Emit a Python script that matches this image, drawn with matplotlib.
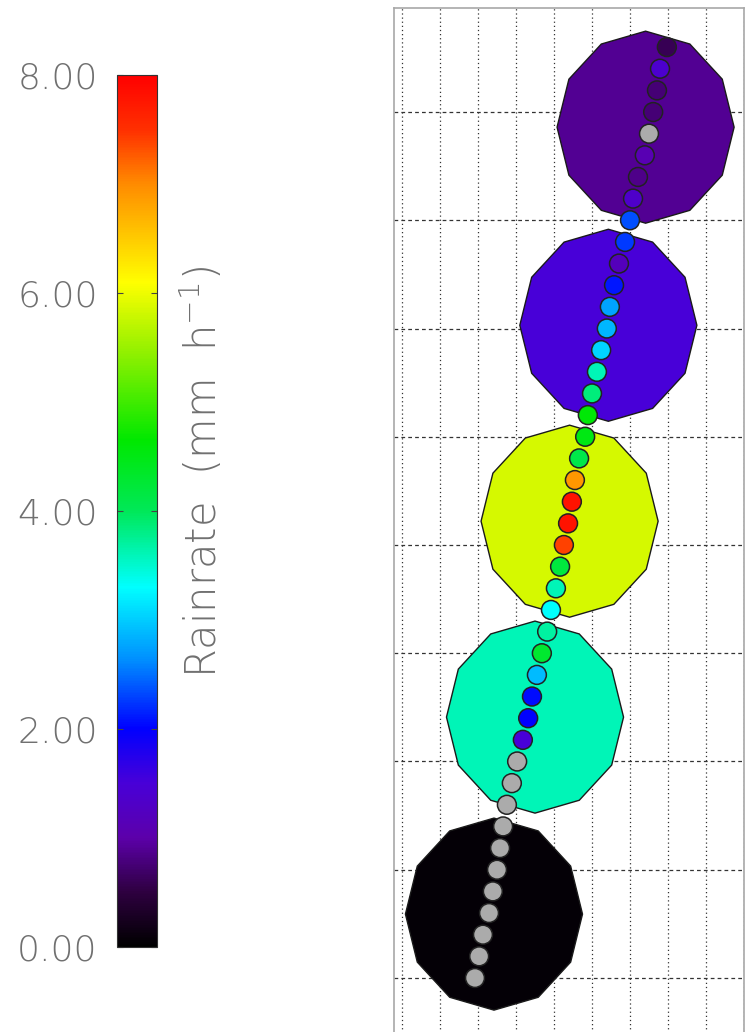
import numpy as np
import matplotlib
matplotlib.use('Agg')
import matplotlib.pyplot as plt
from matplotlib.colors import LinearSegmentedColormap, Normalize
from matplotlib.patches import Polygon
from matplotlib.cm import ScalarMappable
from matplotlib.ticker import FormatStrFormatter

# colour table (rain rate in mm/h -> colour), black -> purple -> blue -> cyan -> green -> yellow -> red
cmap_levels = [0.0, 0.5, 1.0, 1.5, 2.0, 2.64, 3.3, 4.0, 4.65, 5.45, 6.1, 7.0, 7.5, 8.0]
cmap_colors = ['#000000', '#2e0040', '#5c00aa', '#4800d8', '#0000ff', '#0090ff', '#00ffff',
               '#00e858', '#00e800', '#90f000', '#ffff00', '#ff8c00', '#ff3000', '#ff0000']

# storm cells (grid units), mean rain rate
cell_x = [7.41, 6.43, 5.41, 4.50, 3.42]
cell_y = [7.86, 6.03, 4.22, 2.41, 0.59]
cell_rain = [0.9, 1.5, 5.85, 3.6, 0.05]
cell_rx = 2.33
cell_ry = 0.887

# satellite footprints along the track, nan = no retrieval (grey)
nan = np.nan
track_x = [7.97, 7.79, 7.71, 7.61, 7.50, 7.39, 7.21, 7.08, 7.00, 6.87, 6.71,
           6.58, 6.47, 6.39, 6.24, 6.13, 6.00, 5.89, 5.82, 5.66, 5.55, 5.47,
           5.37, 5.26, 5.16, 5.05, 4.92, 4.82, 4.68, 4.55, 4.42, 4.32, 4.18,
           4.03, 3.89, 3.76, 3.66, 3.58, 3.50, 3.39, 3.29, 3.13, 3.03, 2.92]
track_y = [8.6, 8.4, 8.2, 8.0, 7.8, 7.6, 7.4, 7.2, 7.0, 6.8, 6.6,
           6.4, 6.2, 6.0, 5.8, 5.6, 5.4, 5.2, 5.0, 4.8, 4.6, 4.4,
           4.2, 4.0, 3.8, 3.6, 3.4, 3.2, 3.0, 2.8, 2.6, 2.4, 2.2,
           2.0, 1.8, 1.6, 1.4, 1.2, 1.0, 0.8, 0.6, 0.4, 0.2, 0.0]
track_rain = [0.6, 1.4, 0.75, 0.75, nan, 1.1, 0.85, 1.35, 2.35, 2.25, 1.2,
              2.1, 2.75, 2.87, 3.06, 3.6, 3.85, 4.6, 4.5, 4.1, 6.9, 7.8,
              7.8, 7.4, 4.2, 3.6, 3.3, 3.7, 4.3, 2.9, 2.05, 2.0, 1.5,
              nan, nan, nan, nan, nan, nan, nan, nan, nan, nan, nan]

cbar_ticks = [0, 2, 4, 6, 8]

vmax = cmap_levels[-1]
cmap = LinearSegmentedColormap.from_list(
    'rain', [(v / vmax, c) for v, c in zip(cmap_levels, cmap_colors)], N=512)
cmap.set_bad('#ababab')
norm = Normalize(vmin=0, vmax=vmax)

txtcol = '#707070'
plt.rcParams['font.weight'] = 'light'

fig = plt.figure(figsize=(7.52, 10.32), dpi=100)

# ---- map panel
ax = fig.add_axes([394 / 752, -8 / 1032, 350 / 752, 1.0])
ax.set_xlim(0.789, 10.0)
ax.set_ylim(-0.573, 8.961)
ax.set_xticks(range(1, 11))
ax.set_yticks(range(0, 9))
ax.tick_params(length=0, labelbottom=False, labelleft=False)
ax.set_axisbelow(True)
ax.xaxis.grid(True, color='#333333', lw=0.9, linestyle=(0, (1, 2.3)))
ax.yaxis.grid(True, color='#333333', lw=0.9, linestyle=(0, (3, 2.5)))
for s in ax.spines.values():
    s.set_color('#a8a8a8')
    s.set_linewidth(1.2)

t = np.linspace(0, 2 * np.pi, 13)[:-1]
for cx, cy, r in zip(cell_x, cell_y, cell_rain):
    verts = np.column_stack([cx + cell_rx * np.cos(t), cy + cell_ry * np.sin(t)])
    ax.add_patch(Polygon(verts, closed=True, facecolor=cmap(norm(r)),
                         edgecolor='#1a1a1a', lw=1.0, zorder=2))

ax.scatter(track_x, track_y, c=track_rain, cmap=cmap, norm=norm, s=185,
           edgecolors='#222222', linewidths=1.1, plotnonfinite=True, zorder=3)

# ---- colour bar
cax = fig.add_axes([117 / 752, 1 - 947 / 1032, 40 / 752, 872 / 1032])
cb = fig.colorbar(ScalarMappable(norm=norm, cmap=cmap), cax=cax)
cb.set_ticks(cbar_ticks)
cb.ax.yaxis.set_major_formatter(FormatStrFormatter('%.2f'))
cb.outline.set_edgecolor('#333333')
cb.outline.set_linewidth(0.8)
cax.tick_params(axis='y', which='both', left=True, right=True, labelleft=True,
                labelright=False, direction='in', length=4, width=0.8,
                color='#444444', labelsize=26, labelcolor=txtcol, pad=14)
cax.minorticks_off()

fig.text(202 / 752, 1 - 472 / 1032, 'Rainrate  (mm  h$^{-1}$)', rotation=90,
         ha='center', va='center', fontsize=30, color=txtcol)

fig.savefig('out.png', dpi=100)
